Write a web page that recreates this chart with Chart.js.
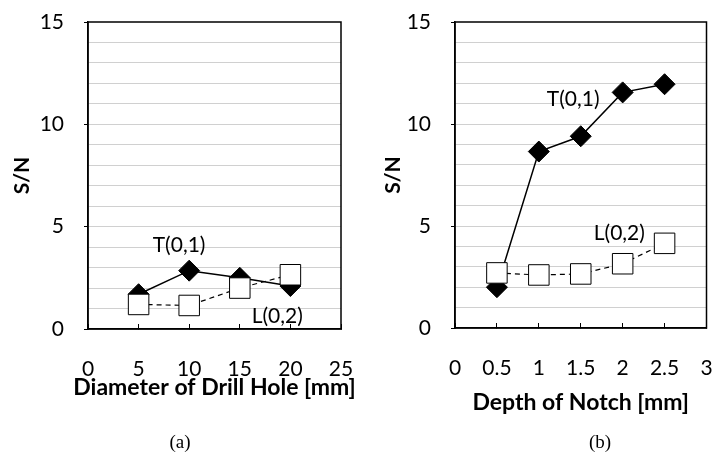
<!DOCTYPE html>
<html>
<head>
<meta charset="utf-8">
<script src="https://cdn.jsdelivr.net/npm/chart.js@4"></script>
<style>
  html, body { margin: 0; padding: 0; background: #fff; }
  #wrap { position: relative; width: 722px; height: 454px; }
  .box { position: absolute; top: 0; width: 361px; height: 454px; }
  .cap { position: absolute; font-family: "Liberation Serif", "Times New Roman", serif; font-size: 19px; transform: translate(-50%, -50%); }
</style>
</head>
<body>
<div id="wrap">
  <div class="box" style="left:0"><canvas id="chartA" width="361" height="454"></canvas></div>
  <div class="box" style="left:361px"><canvas id="chartB" width="361" height="454"></canvas></div>
  <div class="cap" style="left:180px; top:442px">(a)</div>
  <div class="cap" style="left:600px; top:442px">(b)</div>
</div>
<script>
// Values
const holeDiameters = [5, 10, 15, 20];
const holeT01 = [1.7, 2.85, 2.5, 2.1];
const holeL02 = [1.2, 1.15, 2.0, 2.65];

const notchDepths = [0.5, 1, 1.5, 2, 2.5];
const notchT01 = [2.0, 8.65, 9.4, 11.55, 11.95];
const notchL02 = [2.7, 2.6, 2.65, 3.15, 4.15];

const snTicks = [0, 5, 10, 15];

// Mode labels placed in data coordinates
const holeLabels = [{ text: 'T(0,1)', x: 9.0, y: 4.1 }, { text: 'L(0,2)', x: 18.7, y: 0.6 }];
const notchLabels = [{ text: 'T(0,1)', x: 1.41, y: 11.2 }, { text: 'L(0,2)', x: 1.96, y: 4.65 }];

const FONT = 'Lato';

// Plot frame, mode labels and the x title (the built-in title gets squeezed to the axis width)
const framePlugin = {
    id: 'frame',
    afterDraw(chart, args, opts) {
        const { ctx, chartArea: a } = chart;
        const { x, y } = chart.scales;
        ctx.save();
        ctx.strokeStyle = '#000';
        ctx.lineWidth = 1.5;
        ctx.strokeRect(a.left, a.top, a.right - a.left, a.bottom - a.top);
        ctx.fillStyle = '#000';
        ctx.textAlign = 'center';
        ctx.textBaseline = 'middle';
        ctx.font = '21px ' + FONT;
        opts.labels.forEach(l => ctx.fillText(l.text, x.getPixelForValue(l.x), y.getPixelForValue(l.y)));
        ctx.font = 'bold 23px ' + FONT;
        ctx.fillText(opts.xTitle, (a.left + a.right) / 2, opts.xTitleY);
        ctx.restore();
    }
};

function toPoints(xs, ys) {
    return xs.map((v, i) => ({ x: v, y: ys[i] }));
}

function makeChart(id, o) {
    return new Chart(document.getElementById(id), {
        type: 'line',
        data: {
            datasets: [
                {
                    label: 'L(0,2)',
                    data: toPoints(o.xs, o.l02),
                    borderColor: '#000',
                    borderWidth: 1.2,
                    borderDash: [5, 4],
                    pointStyle: 'rect',
                    pointRadius: 14.5,
                    pointBackgroundColor: '#fff',
                    pointBorderColor: '#000',
                    pointBorderWidth: 1
                },
                {
                    label: 'T(0,1)',
                    data: toPoints(o.xs, o.t01),
                    borderColor: '#000',
                    borderWidth: 1.5,
                    pointStyle: 'rectRot',
                    pointRadius: 10.5,
                    pointBackgroundColor: '#000',
                    pointBorderColor: '#000',
                    pointBorderWidth: 1
                }
            ]
        },
        options: {
            responsive: false,
            animation: false,
            layout: { padding: { left: 0, right: o.padRight, top: 22, bottom: 0 } },
            plugins: {
                legend: { display: false },
                tooltip: { enabled: false },
                frame: { labels: o.labels, xTitle: o.xTitle, xTitleY: o.xTitleY }
            },
            scales: {
                x: {
                    type: 'linear',
                    min: 0,
                    max: o.xMax,
                    ticks: {
                        stepSize: o.xStep,
                        autoSkip: false,
                        maxRotation: 0,
                        color: '#000',
                        font: { family: FONT, size: 21 },
                        padding: 33,
                        callback: v => String(v)
                    },
                    grid: { drawOnChartArea: false, drawTicks: true, tickLength: -5, color: '#000', lineWidth: 1 },
                    border: { display: true, color: '#000', width: 1.5 },
                    title: { display: false },
                    afterFit: s => { s.height = 454 - o.bottom; s.paddingLeft = 0; s.paddingRight = 0; }
                },
                y: {
                    min: 0,
                    max: 15,
                    ticks: {
                        stepSize: 1,
                        autoSkip: false,
                        color: '#000',
                        font: { family: FONT, size: 21 },
                        padding: 20,
                        callback: v => snTicks.includes(v) ? v : ''
                    },
                    grid: {
                        color: c => (c.tick.value > 0 && c.tick.value < 15) ? '#d0d0d0' : 'transparent',
                        tickColor: c => snTicks.includes(c.tick.value) ? '#000' : 'transparent',
                        tickLength: 4,
                        lineWidth: 1
                    },
                    border: { display: true, color: '#000', width: 1.5 },
                    title: { display: true, text: 'S/N', color: '#000', font: { family: FONT, size: 21, weight: 'bold' }, padding: { top: o.yTitlePad, bottom: 0 } },
                    afterFit: s => { s.width = o.left; s.paddingTop = 0; s.paddingBottom = 0; }
                }
            }
        },
        plugins: [framePlugin]
    });
}

makeChart('chartA', {
    xs: holeDiameters, t01: holeT01, l02: holeL02, labels: holeLabels,
    xMax: 25, xStep: 5, xTitle: 'Diameter of Drill Hole [mm]', xTitleY: 388,
    left: 88, padRight: 20, bottom: 329, yTitlePad: 10
});

makeChart('chartB', {
    xs: notchDepths, t01: notchT01, l02: notchL02, labels: notchLabels,
    xMax: 3, xStep: 0.5, xTitle: 'Depth of Notch [mm]', xTitleY: 403,
    left: 94, padRight: 10, bottom: 328, yTitlePad: 20
});
</script>
</body>
</html>
